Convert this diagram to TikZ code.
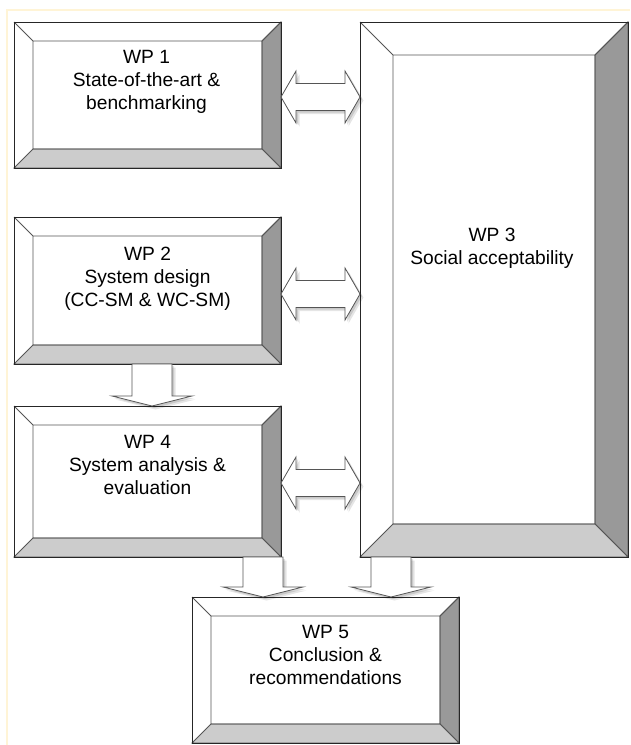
\documentclass[tikz,border=0pt]{standalone}
\usepackage{fontspec}
\setmainfont{Liberation Sans}
\usetikzlibrary{calc}
\definecolor{frameyellow}{HTML}{FFF4D6}
\definecolor{facedark}{HTML}{999999}
\definecolor{facelight}{HTML}{CCCCCC}
\definecolor{edgegray}{HTML}{555555}
\tikzset{
  box/.style={draw=none, inner sep=0pt, outer sep=0pt, rectangle},
  rightface/.style={fill=facedark, draw=edgegray, line width=0.8pt, line join=miter},
  bottomface/.style={fill=facelight, draw=edgegray, line width=0.8pt, line join=miter},
  bevelline/.style={draw=edgegray, line width=0.8pt},
  outline/.style={draw=black!85, line width=1pt},
  wptext/.style={anchor=north, align=center, inner sep=0pt, font=\fontsize{19.2}{23}\selectfont},
  softshadow/.style={
    preaction={fill=black, opacity=0.10, transform canvas={shift={(3.5pt,-3.5pt)}}},
    preaction={fill=black, opacity=0.12, transform canvas={shift={(2pt,-2pt)}}}},
  blockarrow/.style={softshadow, fill=white, draw=edgegray, line width=0.8pt, line join=miter},
  frameline/.style={draw=frameyellow, line width=1.5pt}
}
\newcommand\bevelbox[2]{%
  \path (#1.north west) ++(#2pt,-#2pt) coordinate (#1-a)
        (#1.north east) ++(-#2pt,-#2pt) coordinate (#1-b)
        (#1.south east) ++(-#2pt,#2pt) coordinate (#1-c)
        (#1.south west) ++(#2pt,#2pt) coordinate (#1-d);
  \fill[white] (#1.north west) rectangle (#1.south east);
  \filldraw[rightface] (#1.north east) -- (#1.south east) -- (#1-c) -- (#1-b) -- cycle;
  \filldraw[bottomface] (#1.south west) -- (#1.south east) -- (#1-c) -- (#1-d) -- cycle;
  \draw[bevelline] (#1.north west) -- (#1-a) (#1.north east) -- (#1-b)
        (#1-a) rectangle (#1-c);
  \draw[outline] (#1.north west) rectangle (#1.south east);
}
\newcommand\dblarrow[2]{%
  \draw[blockarrow] (#1) -- ++(15pt,26pt) -- ++(0pt,-12.5pt)
    -- ($(#2)+(-15pt,13.5pt)$) -- ++(0pt,12.5pt) -- (#2)
    -- ++(-15pt,-26pt) -- ++(0pt,12.5pt)
    -- ($(#1)+(15pt,-13.5pt)$) -- ++(0pt,-12.5pt) -- cycle;
}
\newcommand\droparrow[2]{%
  \draw[blockarrow] ($(#1)+(-20pt,0pt)$) -- ($(#2)+(-20pt,10pt)$)
    -- ($(#2)+(-40pt,10pt)$) -- (#2) -- ($(#2)+(40pt,10pt)$)
    -- ($(#2)+(20pt,10pt)$) -- ($(#1)+(20pt,0pt)$) -- cycle;
}
\begin{document}
\begin{tikzpicture}[x=1pt, y=-1pt]
  \useasboundingbox (0,0) rectangle (630,745);
  \fill[white] (0,0) rectangle (630,745);
  \draw[frameline] (630,10) -- (7,10) -- (7,745);

  % boxes
  \node[box, minimum width=267pt, minimum height=146pt] (wp1) at (147.5,95) {};
  \node[box, minimum width=267pt, minimum height=147pt] (wp2) at (147.5,290.5) {};
  \node[box, minimum width=268pt, minimum height=535pt] (wp3) at (494,289.5) {};
  \node[box, minimum width=267pt, minimum height=151pt] (wp4) at (147.5,481.5) {};
  \node[box, minimum width=267pt, minimum height=146pt] (wp5) at (325.5,670) {};

  \bevelbox{wp1}{19}
  \bevelbox{wp2}{19}
  \bevelbox{wp3}{33}
  \bevelbox{wp4}{19}
  \bevelbox{wp5}{19}

  % texts
  \node[wptext] (wp1t) at ($(wp1.north)+(-1pt,-28pt)$) {WP 1\\State-of-the-art \&\\benchmarking};
  \node[wptext] (wp2t) at ($(wp2.north)+(0pt,-30pt)$) {WP 2\\System design\\(CC-SM \& WC-SM)};
  \node[wptext] (wp3t) at ($(wp3.north)+(-2pt,-206pt)$) {WP 3\\Social acceptability};
  \node[wptext] (wp4t) at ($(wp4.north)+(0pt,-29pt)$) {WP 4\\System analysis \&\\evaluation};
  \node[wptext] (wp5t) at ($(wp5.north)+(0pt,-28pt)$) {WP 5\\Conclusion \&\\recommendations};

  % double arrows to WP3
  \coordinate (a1l) at ($(wp1.east)+(0pt,-2pt)$);
  \coordinate (a1r) at (a1l -| wp3.west);
  \coordinate (a2l) at ($(wp2.east)+(0pt,-3.5pt)$);
  \coordinate (a2r) at (a2l -| wp3.west);
  \coordinate (a4l) at ($(wp4.east)+(0pt,-1.5pt)$);
  \coordinate (a4r) at (a4l -| wp3.west);
  \dblarrow{a1l}{a1r}
  \dblarrow{a2l}{a2r}
  \dblarrow{a4l}{a4r}

  % downward arrows
  \coordinate (d24s) at ($(wp2.south)+(4.5pt,0pt)$);
  \coordinate (d24t) at (d24s |- wp4.north);
  \coordinate (d45s) at ($(wp4.south east)+(-18pt,0pt)$);
  \coordinate (d45t) at (d45s |- wp5.north);
  \coordinate (d35s) at ($(wp3.south west)+(31pt,0pt)$);
  \coordinate (d35t) at (d35s |- wp5.north);
  \droparrow{d24s}{d24t}
  \droparrow{d45s}{d45t}
  \droparrow{d35s}{d35t}
\end{tikzpicture}
\end{document}
